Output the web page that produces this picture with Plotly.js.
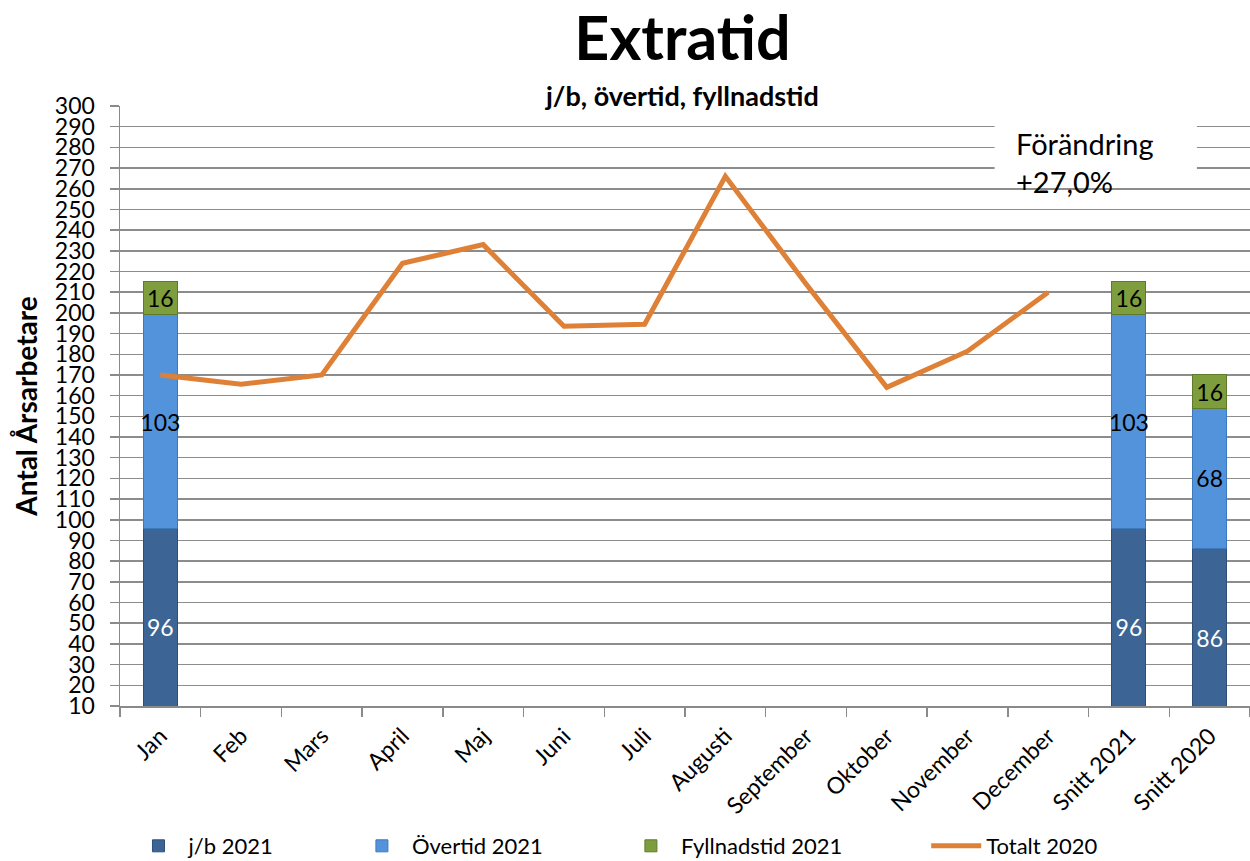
<!DOCTYPE html>
<html>
<head>
<meta charset="utf-8">
<script src="https://cdn.plot.ly/plotly-3.0.1.min.js"></script>
<style>html,body{margin:0;padding:0;background:#fff;}#chart{width:1250px;height:861px;}</style>
</head>
<body>
<div id="chart"></div>
<script>
const categories = ['Jan','Feb','Mars','April','Maj','Juni','Juli','Augusti','September','Oktober','November','December','Snitt 2021','Snitt 2020'];
const jb2021 = [96, null, null, null, null, null, null, null, null, null, null, null, 96, 86];
const overtid2021 = [103, null, null, null, null, null, null, null, null, null, null, null, 103, 68];
const fyllnadstid2021 = [16, null, null, null, null, null, null, null, null, null, null, null, 16, 16];
const totalt2020 = [170, 165.5, 170, 224, 233, 193.5, 194.5, 266, 214, 164, 181.5, 210, null, null];
const seriesNames = ['j/b 2021', 'Övertid 2021', 'Fyllnadstid 2021', 'Totalt 2020'];
const yTicks = [];
for (let v = 10; v <= 300; v += 10) yTicks.push(v);

const FONT = 'Lato, "Open Sans", sans-serif';
const lbl = a => a.map(v => v == null ? '' : String(v));
const pad = n => '\u00a0'.repeat(n);

const barCommon = {
  type: 'bar',
  x: categories,
  width: 0.42,
  textposition: 'inside',
  insidetextanchor: 'middle',
  constraintext: 'none',
  textangle: 0,
  hoverinfo: 'skip'
};

const traces = [
  Object.assign({}, barCommon, {
    name: seriesNames[0] + pad(13), y: jb2021, text: lbl(jb2021),
    marker: {color: '#3C6595', line: {color: '#2E4F78', width: 1}},
    textfont: {family: FONT, size: 23, color: '#ffffff'}
  }),
  Object.assign({}, barCommon, {
    name: seriesNames[1] + pad(13), y: overtid2021, text: lbl(overtid2021),
    marker: {color: '#5393DC', line: {color: '#3E78BC', width: 1}},
    textfont: {family: FONT, size: 23, color: '#000000'}
  }),
  Object.assign({}, barCommon, {
    name: seriesNames[2] + pad(14), y: fyllnadstid2021, text: lbl(fyllnadstid2021),
    marker: {color: '#7E9E3E', line: {color: '#5F7A2A', width: 1}},
    textfont: {family: FONT, size: 23, color: '#000000'}
  }),
  {
    type: 'scatter', mode: 'lines', name: seriesNames[3],
    x: categories, y: totalt2020,
    line: {color: '#DF8037', width: 5},
    hoverinfo: 'skip'
  }
];

const layout = {
  width: 1250, height: 861,
  margin: {l: 120, r: 0, t: 106, b: 155, autoexpand: false},
  paper_bgcolor: '#ffffff', plot_bgcolor: '#ffffff',
  barmode: 'stack',
  font: {family: FONT, color: '#000000'},
  showlegend: true,
  title: {
    text: '<b>Extratid</b>',
    font: {family: FONT, size: 61, color: '#000000'},
    x: 0.546, xanchor: 'center', y: 0.955, yanchor: 'middle'
  },
  xaxis: {
    type: 'category',
    automargin: false,
    tickangle: -45,
    tickfont: {family: FONT, size: 23, color: '#000000'},
    tickson: 'boundaries',
    ticks: 'outside', ticklen: 9, tickcolor: '#8a8a8a', tickwidth: 1.5,
    ticklabelstandoff: 6,
    showline: true, linecolor: '#8a8a8a', linewidth: 1.5,
    showgrid: false, zeroline: false,
    fixedrange: true
  },
  yaxis: {
    automargin: false,
    range: [10, 300],
    tickvals: yTicks,
    ticktext: yTicks.map(String),
    tickfont: {family: FONT, size: 23, color: '#000000'},
    ticks: 'outside', ticklen: 9, tickcolor: '#8a8a8a', tickwidth: 1.5,
    ticklabelstandoff: 10,
    showline: true, linecolor: '#8a8a8a', linewidth: 1.5,
    showgrid: true, gridcolor: '#8c8c8c', gridwidth: 1.5,
    zeroline: false,
    title: {text: '<b>Antal Årsarbetare</b>', font: {family: FONT, size: 28, color: '#000000'}, standoff: 9},
    fixedrange: true
  },
  legend: {
    orientation: 'h',
    x: 0.0075, xanchor: 'left',
    yref: 'container',
    y: 0.0174, yanchor: 'middle',
    font: {family: FONT, size: 22, color: '#000000'},
    traceorder: 'normal',
    itemwidth: 50,
    bgcolor: 'rgba(0,0,0,0)'
  },
  shapes: [
    {
      type: 'rect', xref: 'paper', yref: 'paper', layer: 'above',
      x0: 0.774, x1: 0.953, y0: 0.865, y1: 0.977,
      fillcolor: '#ffffff', line: {width: 0}
    }
  ],
  annotations: [
    {
      xref: 'paper', yref: 'paper',
      x: 0.497, y: 1.0167, xanchor: 'center', yanchor: 'middle',
      text: '<b>j/b, övertid, fyllnadstid</b>',
      showarrow: false,
      font: {family: FONT, size: 27, color: '#000000'}
    },
    {
      xref: 'paper', yref: 'paper',
      x: 0.792, y: 0.968, xanchor: 'left', yanchor: 'top',
      text: 'Förändring<br>+27,0%',
      align: 'left',
      showarrow: false,
      borderpad: 0,
      font: {family: FONT, size: 29, color: '#000000'}
    }
  ]
};

Plotly.newPlot('chart', traces, layout, {displayModeBar: false, staticPlot: true});
</script>
</body>
</html>
